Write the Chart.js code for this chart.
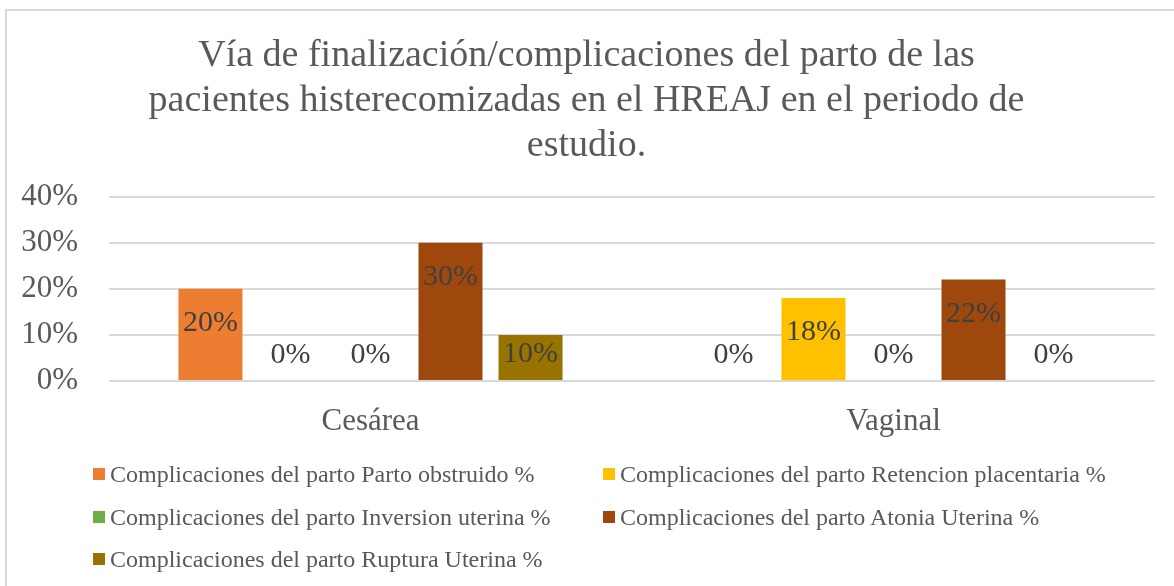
<!DOCTYPE html>
<html>
<head>
<meta charset="utf-8">
<script src="https://cdn.jsdelivr.net/npm/chart.js@4"></script>
<style>
    html, body { margin: 0; padding: 0; background: #fff; overflow: hidden; }
    #wrap { position: relative; width: 1174px; height: 586px; }
    #frame { position: absolute; left: 5px; top: 9px; width: 1300px; height: 700px; border: 2px solid #d9d9d9; box-sizing: border-box; }
    #chart { position: absolute; left: 0; top: 0; }
    #legend { position: absolute; left: 0; top: 0; width: 1174px; height: 586px; font-family: "Liberation Serif", "Times New Roman", serif; font-size: 24px; color: #595959; }
    .item { position: absolute; white-space: nowrap; line-height: 28px; }
    .box { display: inline-block; width: 12px; height: 12px; margin-right: 5px; vertical-align: 2.5px; }
</style>
</head>
<body>
<div id="wrap">
    <div id="frame"></div>
    <canvas id="chart" width="1174" height="586"></canvas>
    <div id="legend"></div>
</div>
<script>
const titleLines = [
    'Vía de finalización/complicaciones del parto de las',
    'pacientes histerecomizadas en el HREAJ en el periodo de',
    'estudio.'
];
const categories = ['Cesárea', 'Vaginal'];
const seriesLabels = [
    'Complicaciones del parto Parto obstruido %',
    'Complicaciones del parto Retencion placentaria %',
    'Complicaciones del parto Inversion uterina %',
    'Complicaciones del parto Atonia Uterina %',
    'Complicaciones del parto Ruptura Uterina %'
];
const seriesColors = ['#ED7D31', '#FFC000', '#70AD47', '#9E480E', '#997300'];
const partoObstruido = [20, 0];
const retencionPlacentaria = [0, 18];
const inversionUterina = [0, 0];
const atoniaUterina = [30, 22];
const rupturaUterina = [10, 0];
const yTicks = [0, 10, 20, 30, 40];

const seriesValues = [partoObstruido, retencionPlacentaria, inversionUterina, atoniaUterina, rupturaUterina];
const serif = '"Liberation Serif", "Times New Roman", serif';

// value labels like Excel: a bit below the bar top, never lower than just above the base line
const valueLabels = {
    id: 'valueLabels',
    afterDatasetsDraw(chart) {
        const ctx = chart.ctx;
        ctx.save();
        ctx.font = '30px ' + serif;
        ctx.fillStyle = '#404040';
        ctx.textAlign = 'center';
        ctx.textBaseline = 'alphabetic';
        chart.data.datasets.forEach((ds, i) => {
            const meta = chart.getDatasetMeta(i);
            meta.data.forEach((bar, j) => {
                const y = Math.min(bar.y + 42, bar.base - 18);
                ctx.fillText(ds.data[j] + '%', bar.x, y);
            });
        });
        ctx.restore();
    }
};

new Chart(document.getElementById('chart'), {
    type: 'bar',
    data: {
        labels: categories,
        datasets: seriesLabels.map((label, i) => ({
            label: label,
            data: seriesValues[i],
            backgroundColor: seriesColors[i],
            categoryPercentage: 0.765,
            barPercentage: 0.8
        }))
    },
    options: {
        responsive: false,
        animation: false,
        layout: { padding: { left: 18, right: 19, top: 10, bottom: 145 } },
        plugins: {
            legend: { display: false },
            tooltip: { enabled: false },
            title: {
                display: true,
                text: titleLines,
                color: '#595959',
                font: { family: serif, size: 38, weight: 'normal', lineHeight: 1.18 },
                padding: { top: 24, bottom: 28 }
            }
        },
        scales: {
            x: {
                grid: { display: false },
                border: { display: false },
                ticks: { color: '#595959', font: { family: serif, size: 31 }, padding: 14 },
                afterFit(scale) { scale.height = 60; }
            },
            y: {
                min: 0,
                max: 40,
                afterBuildTicks(scale) { scale.ticks = yTicks.map(v => ({ value: v })); },
                afterFit(scale) { scale.width = 91; },
                grid: { color: '#d9d9d9', lineWidth: 2, drawTicks: false },
                border: { display: false },
                ticks: {
                    color: '#595959',
                    font: { family: serif, size: 31 },
                    padding: 31,
                    callback: v => v + '%'
                }
            }
        }
    },
    plugins: [valueLabels]
});

// legend in two columns like the original
const legend = document.getElementById('legend');
const legendPos = [[93, 460], [603, 460], [93, 503], [603, 503], [93, 545]];
seriesLabels.forEach((label, i) => {
    const item = document.createElement('div');
    item.className = 'item';
    item.style.left = legendPos[i][0] + 'px';
    item.style.top = legendPos[i][1] + 'px';
    const box = document.createElement('span');
    box.className = 'box';
    box.style.background = seriesColors[i];
    item.appendChild(box);
    item.appendChild(document.createTextNode(label));
    legend.appendChild(item);
});
</script>
</body>
</html>
